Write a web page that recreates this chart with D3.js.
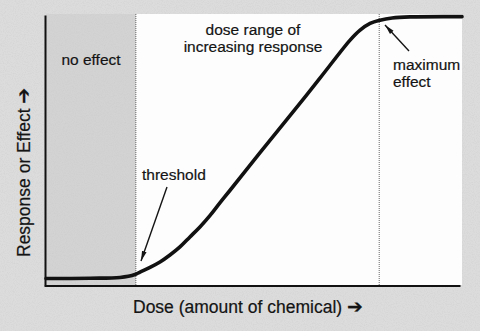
<!DOCTYPE html>
<html>
<head>
<meta charset="utf-8">
<script src="https://cdn.jsdelivr.net/npm/d3@7"></script>
<style>
  html, body { margin: 0; padding: 0; background: #d8d8d8; }
  svg { display: block; }
  text { font-family: "Liberation Sans", Arial, Helvetica, sans-serif; fill: #141414; stroke: #141414; stroke-width: 0.2; }
</style>
</head>
<body>
<svg id="chart" width="480" height="331"></svg>
<script>
// ---- data (dose in % of range, response in % of max) ----
const dose = [0, 10.6, 17.8, 21.4, 22.6, 25.0, 27.4, 29.8, 32.2, 34.6, 37.0, 39.4, 41.8, 44.2, 51.4, 58.7, 65.9, 73.1, 75.5, 77.9, 80.3, 83.2, 87.5, 100];
const response = [2.4, 2.5, 2.8, 3.9, 4.8, 6.5, 8.5, 11.1, 14.1, 17.8, 21.5, 25.7, 30.4, 35.0, 48.9, 62.8, 76.7, 90.7, 94.4, 96.9, 98.1, 98.9, 99.3, 99.4];
const thresholdDose = 21.6;
const maxEffectDose = 80.1;
const regionLabels = ["no effect", "dose range of", "increasing response", "threshold", "maximum", "effect"];
const xLabel = "Dose (amount of chemical) ";
const yLabel = "Response or Effect ";

const W = 480, H = 331;
const margin = { left: 46, right: 18, top: 15, bottom: 46 };
const svg = d3.select("#chart");

const defs = svg.append("defs");
// paper-like texture
const f = defs.append("filter").attr("id", "grain").attr("x", 0).attr("y", 0).attr("width", 1).attr("height", 1);
f.append("feTurbulence").attr("type", "fractalNoise").attr("baseFrequency", 0.9).attr("numOctaves", 2).attr("seed", 3).attr("result", "n");
f.append("feColorMatrix").attr("in", "n").attr("type", "matrix")
  .attr("values", "0 0 0 0 0.55  0 0 0 0 0.55  0 0 0 0 0.55  0 0 0 0.7 -0.3").attr("result", "g");
f.append("feComposite").attr("in", "g").attr("in2", "SourceGraphic").attr("operator", "in").attr("result", "g2");
f.append("feMerge").selectAll("feMergeNode").data(["SourceGraphic", "g2"]).enter()
  .append("feMergeNode").attr("in", d => d);

defs.append("marker").attr("id", "ah").attr("viewBox", "0 0 10 6")
  .attr("refX", 10).attr("refY", 3).attr("markerWidth", 10).attr("markerHeight", 6)
  .attr("markerUnits", "userSpaceOnUse").attr("orient", "auto")
  .append("path").attr("d", "M0,0.6 L10,3 L0,5.4 Z").attr("fill", "#141414");

svg.append("rect").attr("width", W).attr("height", H).attr("fill", "#dcdcdc").attr("filter", "url(#grain)");

const x = d3.scaleLinear().domain([0, 100]).range([margin.left, W - margin.right]);
const y = d3.scaleLinear().domain([0, 100]).range([H - margin.bottom, margin.top]);

// plot area
svg.append("rect").attr("x", x(0)).attr("y", y(100) - 1).attr("width", x(100) - x(0)).attr("height", y(0) - y(100) + 1).attr("fill", "#fdfdfd");
// no-effect zone
svg.append("rect").attr("x", x(0)).attr("y", y(100) - 1).attr("width", x(thresholdDose) - x(0)).attr("height", y(0) - y(100) + 1)
  .attr("fill", "#d3d3d3").attr("filter", "url(#grain)");

// dotted boundaries
svg.selectAll(".bound").data([thresholdDose, maxEffectDose]).enter().append("line")
  .attr("x1", d => x(d)).attr("x2", d => x(d)).attr("y1", y(100) - 1).attr("y2", y(0))
  .attr("stroke", "#666").attr("stroke-width", 1).attr("stroke-dasharray", "1,1");

// axes (lines only)
svg.append("g").attr("transform", `translate(${x(0) - 1},0)`)
  .call(d3.axisLeft(y).ticks(0).tickSizeOuter(0))
  .call(g => g.select(".domain").attr("stroke", "#111").attr("stroke-width", 2));
svg.append("g").attr("transform", `translate(0,${y(0) + 0.5})`)
  .call(d3.axisBottom(d3.scaleLinear().domain([0, 100]).range([x(0) - 2, x(100) - 2])).ticks(0).tickSizeOuter(0))
  .call(g => g.select(".domain").attr("stroke", "#111").attr("stroke-width", 2));

// curve
const pts = dose.map((d, i) => [d, response[i]]);
svg.append("path").datum(pts)
  .attr("d", d3.line().x(d => x(d[0])).y(d => y(d[1])).curve(d3.curveCatmullRom.alpha(0.5)))
  .attr("fill", "none").attr("stroke", "#111").attr("stroke-width", 3.6).attr("stroke-linecap", "round");

// annotation texts
const fs = 15.5;
svg.append("text").attr("x", 91).attr("y", 65).attr("text-anchor", "middle").attr("font-size", fs).text(regionLabels[0]);
svg.append("text").attr("x", 253).attr("y", 35).attr("text-anchor", "middle").attr("font-size", fs).text(regionLabels[1]);
svg.append("text").attr("x", 253).attr("y", 52).attr("text-anchor", "middle").attr("font-size", fs).text(regionLabels[2]);
svg.append("text").attr("x", 142).attr("y", 180).attr("font-size", fs).text(regionLabels[3]);
svg.append("text").attr("x", 393).attr("y", 70).attr("font-size", fs).text(regionLabels[4]);
svg.append("text").attr("x", 393).attr("y", 87).attr("font-size", fs).text(regionLabels[5]);

// arrows
const arrows = [[[167, 187], [141, 261]], [[409, 51], [385, 25]]];
svg.selectAll(".arr").data(arrows).enter().append("line")
  .attr("x1", d => d[0][0]).attr("y1", d => d[0][1]).attr("x2", d => d[1][0]).attr("y2", d => d[1][1])
  .attr("stroke", "#141414").attr("stroke-width", 1.4).attr("marker-end", "url(#ah)");

// axis titles
const xt = svg.append("text").attr("x", 133).attr("y", 313).attr("font-size", 17.5).text(xLabel);
xt.append("tspan").attr("font-family", "DejaVu Sans").attr("font-size", 19).attr("font-weight", "bold").text("\u2794");
const yt = svg.append("text").attr("transform", "translate(30,257) rotate(-90)").attr("font-size", 17.5).text(yLabel);
yt.append("tspan").attr("font-family", "DejaVu Sans").attr("font-size", 19).attr("font-weight", "bold").text("\u2794");
</script>
</body>
</html>
